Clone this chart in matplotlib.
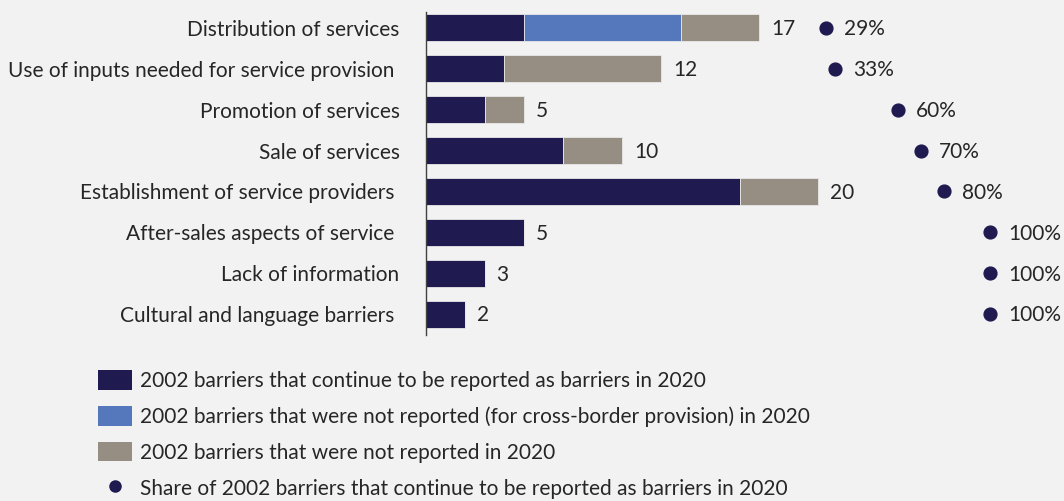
import matplotlib.pyplot as plt
from matplotlib.patches import Patch
from matplotlib.lines import Line2D
import numpy as np

plt.rcParams['font.family'] = ['Lato', 'DejaVu Sans']

categories = ['Distribution of services',
              'Use of inputs needed for service provision ',
              'Promotion of services',
              'Sale of services',
              'Establishment of service providers ',
              'After-sales aspects of service ',
              'Lack of information',
              'Cultural and language barriers ']
still_reported = [5, 4, 3, 7, 16, 5, 3, 2]
not_reported_cross = [8, 0, 0, 0, 0, 0, 0, 0]
not_reported = [4, 8, 2, 3, 4, 0, 0, 0]
totals = [17, 12, 5, 10, 20, 5, 3, 2]
share = [29, 33, 60, 70, 80, 100, 100, 100]

legend_labels = ['2002 barriers that continue to be reported as barriers in 2020',
                 '2002 barriers that were not reported (for cross-border provision) in 2020',
                 '2002 barriers that were not reported in 2020',
                 'Share of 2002 barriers that continue to be reported as barriers in 2020']

navy = '#1f1a4f'
blue = '#5577bb'
taupe = '#968d83'
bg = '#f2f2f2'
txt = '#262626'
fs = 15

W, H = 1064, 501
fig = plt.figure(figsize=(W / 100, H / 100), dpi=100, facecolor=bg)
ax = fig.add_axes([426 / W, 1 - 334.5 / H, (W - 426) / W, 327 / H])
ax.set_facecolor('none')

y = np.arange(len(categories))
h = 0.66
s1 = np.array(still_reported)
s2 = np.array(not_reported_cross)
s3 = np.array(not_reported)
ax.barh(y, s1, h, color=navy, edgecolor='#e8e8e8', linewidth=0.6)
ax.barh(y, s2, h, left=s1, color=blue, edgecolor='#e8e8e8', linewidth=0.6)
ax.barh(y, s3, h, left=s1 + s2, color=taupe, edgecolor='#e8e8e8', linewidth=0.6)

for yi, t in zip(y, totals):
    ax.annotate(str(t), (t, yi), xytext=(8.5, -1), textcoords='offset points',
                va='center', ha='left', fontsize=fs, color=txt)

xmax = (W - 426) / 19.6
ax.set_xlim(0, xmax)
ax.set_ylim(len(categories) - 0.5, -0.5)
ax.set_yticks(y)
ax.set_yticklabels(categories, fontsize=fs, color=txt)
ax.tick_params(axis='y', length=0, pad=19)
ax.set_xticks([])
for side in ['top', 'right', 'bottom']:
    ax.spines[side].set_visible(False)
ax.spines['left'].set_color('#404040')
ax.spines['left'].set_linewidth(1.0)
ax.spines['left'].set_bounds(len(categories) - 0.5, -0.39)

# share dots on their own x scale, 0% sitting where the longest bars stop
ax2 = ax.twiny()
ax2.set_facecolor('none')
origin, span = 17.0, 11.78
ax2.set_xlim(-origin / span * 100, (xmax - origin) / span * 100)
ax2.set_ylim(ax.get_ylim())
ax2.scatter(share, y, s=85, color=navy, zorder=3)
for yi, sv in zip(y, share):
    ax2.annotate(f'{sv}%', (sv, yi), xytext=(13, -1), textcoords='offset points',
                 va='center', ha='left', fontsize=fs, color=txt)
ax2.axis('off')

handles = [Patch(facecolor=navy), Patch(facecolor=blue), Patch(facecolor=taupe),
           Line2D([], [], ls='none', marker='o', markersize=8, color=navy)]
fig.legend(handles, legend_labels, loc='upper left', bbox_to_anchor=(90 / W, 1 - 362 / H),
           frameon=False, fontsize=fs, labelcolor=txt, handlelength=1.6, handleheight=1.06,
           handletextpad=0.4, labelspacing=0.72, borderaxespad=0)

fig.savefig('out.png', dpi=100, facecolor=bg)
